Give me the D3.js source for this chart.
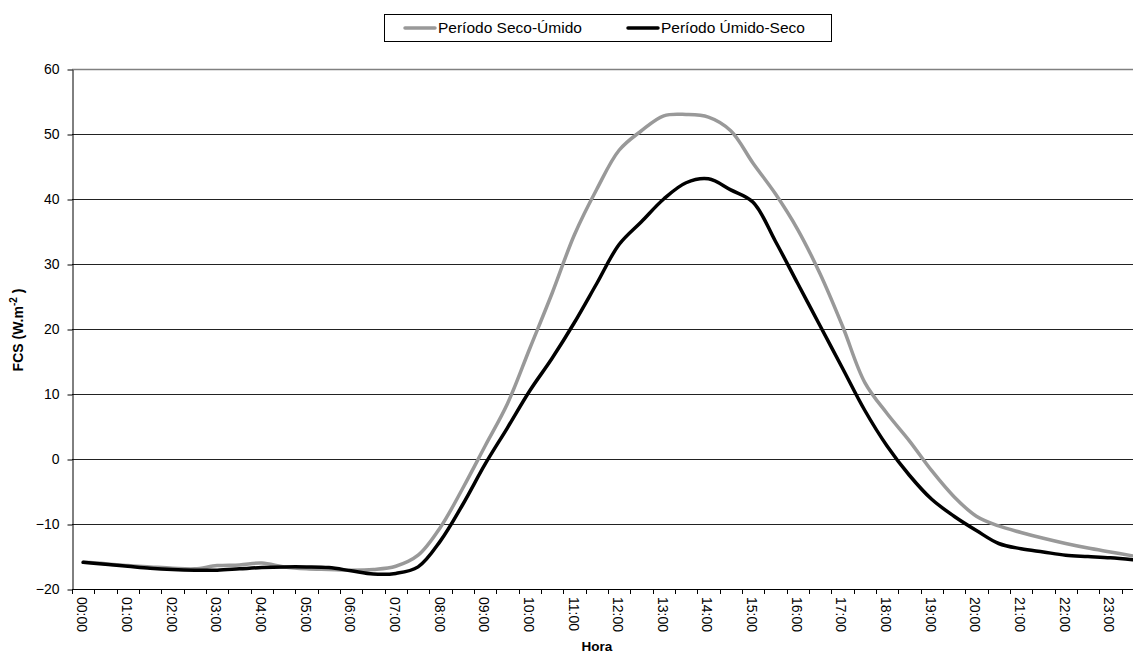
<!DOCTYPE html>
<html>
<head>
<meta charset="utf-8">
<script src="https://cdn.jsdelivr.net/npm/d3@7"></script>
<style>
  body { margin: 0; background: #fff; }
  svg { display: block; font-family: "Liberation Sans", Arial, sans-serif; }
</style>
</head>
<body>
<div id="chart"></div>
<script>
// half-hour categories 00:00 .. 23:30
const horas = [
  "00:00","00:30","01:00","01:30","02:00","02:30","03:00","03:30",
  "04:00","04:30","05:00","05:30","06:00","06:30","07:00","07:30",
  "08:00","08:30","09:00","09:30","10:00","10:30","11:00","11:30",
  "12:00","12:30","13:00","13:30","14:00","14:30","15:00","15:30",
  "16:00","16:30","17:00","17:30","18:00","18:30","19:00","19:30",
  "20:00","20:30","21:00","21:30","22:00","22:30","23:00","23:30"
];

const secoUmido = [
  -15.9, -16.1, -16.4, -16.6, -16.8, -16.9, -16.4, -16.3,
  -16.0, -16.6, -16.9, -17.0, -17.1, -17.0, -16.5, -14.8,
  -10.5, -4.5, 2.0, 8.5, 17.0, 25.5, 34.5, 41.5,
  47.5, 50.5, 52.8, 53.0, 52.6, 50.5, 45.5, 40.8,
  35.3, 28.5, 20.5, 11.8, 7.0, 2.8, -1.8, -5.8,
  -8.8, -10.3, -11.3, -12.2, -13.0, -13.7, -14.3, -14.9
];

const umidoSeco = [
  -15.9, -16.2, -16.5, -16.8, -17.0, -17.1, -17.1, -16.9,
  -16.7, -16.6, -16.6, -16.7, -17.2, -17.7, -17.6, -16.6,
  -12.6, -7.0, -0.8, 4.8, 10.5, 15.5, 21.0, 27.0,
  33.0, 36.5, 40.0, 42.5, 43.1, 41.4, 39.5, 33.5,
  27.0, 20.5, 14.0, 7.5, 2.0, -2.5, -6.2, -8.8,
  -11.0, -13.0, -13.8, -14.3, -14.8, -15.0, -15.2, -15.5
];

const yTicks = [-20, -10, 0, 10, 20, 30, 40, 50, 60];

const series = [
  { name: "Período Seco-Úmido", values: secoUmido, color: "#999999" },
  { name: "Período Úmido-Seco", values: umidoSeco, color: "#000000" }
];

const width = 1133;
const height = 658;
const plotLeft = 72;
const plotTop = 69;
const plotBottom = 589;
const step = 22.33;

const svg = d3
  .select("#chart")
  .append("svg")
  .attr("width", width)
  .attr("height", height);

const x = d3
  .scaleBand()
  .domain(horas)
  .range([plotLeft, plotLeft + step * horas.length])
  .padding(0);

const y = d3.scaleLinear().domain([-20, 60]).range([plotBottom, plotTop]);

// grid lines
svg
  .append("g")
  .selectAll("line")
  .data(yTicks.filter((d) => d !== -20))
  .enter()
  .append("line")
  .attr("x1", plotLeft)
  .attr("x2", width)
  .attr("y1", (d) => y(d) + 0.5)
  .attr("y2", (d) => y(d) + 0.5)
  .attr("stroke", (d) => (d === 60 ? "#808080" : "#222"))
  .attr("stroke-width", (d) => (d === 60 ? 1.5 : 1));

// y axis
const yAxis = svg
  .append("g")
  .attr("transform", `translate(${plotLeft + 0.5},0.5)`)
  .call(d3.axisLeft(y).tickValues(yTicks).tickSize(5).tickSizeOuter(0));
yAxis.select(".domain").attr("stroke", "#000");
yAxis.selectAll("line").attr("stroke", "#000");
yAxis
  .selectAll("text")
  .attr("x", -13)
  .style("font-size", "14px")
  .style("font-family", "Liberation Sans, Arial, sans-serif")
  .attr("fill", "#000");

// x axis: ticks at every category boundary, labels every hour
const xAxis = svg.append("g");
xAxis
  .append("line")
  .attr("x1", plotLeft)
  .attr("x2", width)
  .attr("y1", plotBottom + 0.5)
  .attr("y2", plotBottom + 0.5)
  .attr("stroke", "#000");

xAxis
  .selectAll(".tick")
  .data(horas)
  .enter()
  .append("line")
  .attr("class", "tick")
  .attr("x1", (d) => Math.round(x(d)) + 0.5)
  .attr("x2", (d) => Math.round(x(d)) + 0.5)
  .attr("y1", plotBottom)
  .attr("y2", plotBottom + 5)
  .attr("stroke", "#000");

xAxis
  .selectAll(".xlabel")
  .data(horas.filter((d, i) => i % 2 === 0))
  .enter()
  .append("text")
  .attr("class", "xlabel")
  .attr(
    "transform",
    (d) => `translate(${x(d) + x.bandwidth() / 2 - 1},${plotBottom + 8}) rotate(90)`
  )
  .attr("dy", "0.35em")
  .attr("text-anchor", "start")
  .style("font-size", "14px")
  .text((d) => d);

// axis titles
svg
  .append("text")
  .attr("x", 597)
  .attr("y", 651)
  .attr("text-anchor", "middle")
  .style("font-size", "13.5px")
  .style("font-weight", "bold")
  .text("Hora");

const yTitle = svg
  .append("text")
  .attr("transform", "translate(23,330) rotate(-90)")
  .attr("text-anchor", "middle")
  .style("font-size", "14px")
  .style("font-weight", "bold");
yTitle.append("tspan").text("FCS (W.m");
yTitle.append("tspan").attr("dy", -6).style("font-size", "10px").text("-2");
yTitle.append("tspan").attr("dy", 6).text(" )");

// lines
const line = d3
  .line()
  .x((d, i) => x(horas[i]) + x.bandwidth() / 2)
  .y((d) => y(d))
  .curve(d3.curveCatmullRom.alpha(0.5));

svg
  .append("g")
  .selectAll("path")
  .data(series)
  .enter()
  .append("path")
  .attr("d", (d) => line(d.values))
  .attr("fill", "none")
  .attr("stroke", (d) => d.color)
  .attr("stroke-width", 3.5)
  .attr("stroke-linejoin", "round")
  .attr("stroke-linecap", "round");

// legend
const legend = svg.append("g");
legend
  .append("rect")
  .attr("x", 384.5)
  .attr("y", 14.5)
  .attr("width", 447)
  .attr("height", 27)
  .attr("fill", "#fff")
  .attr("stroke", "#000");

const legendX = [405, 628];
const item = legend
  .selectAll(".item")
  .data(series)
  .enter()
  .append("g")
  .attr("class", "item")
  .attr("transform", (d, i) => `translate(${legendX[i]},28)`);

item
  .append("line")
  .attr("x1", 0)
  .attr("x2", 30)
  .attr("stroke", (d) => d.color)
  .attr("stroke-width", 3.5)
  .attr("stroke-linecap", "round");

item
  .append("text")
  .attr("x", 33)
  .attr("dy", "0.35em")
  .style("font-size", "15.5px")
  .text((d) => d.name);
</script>
</body>
</html>
